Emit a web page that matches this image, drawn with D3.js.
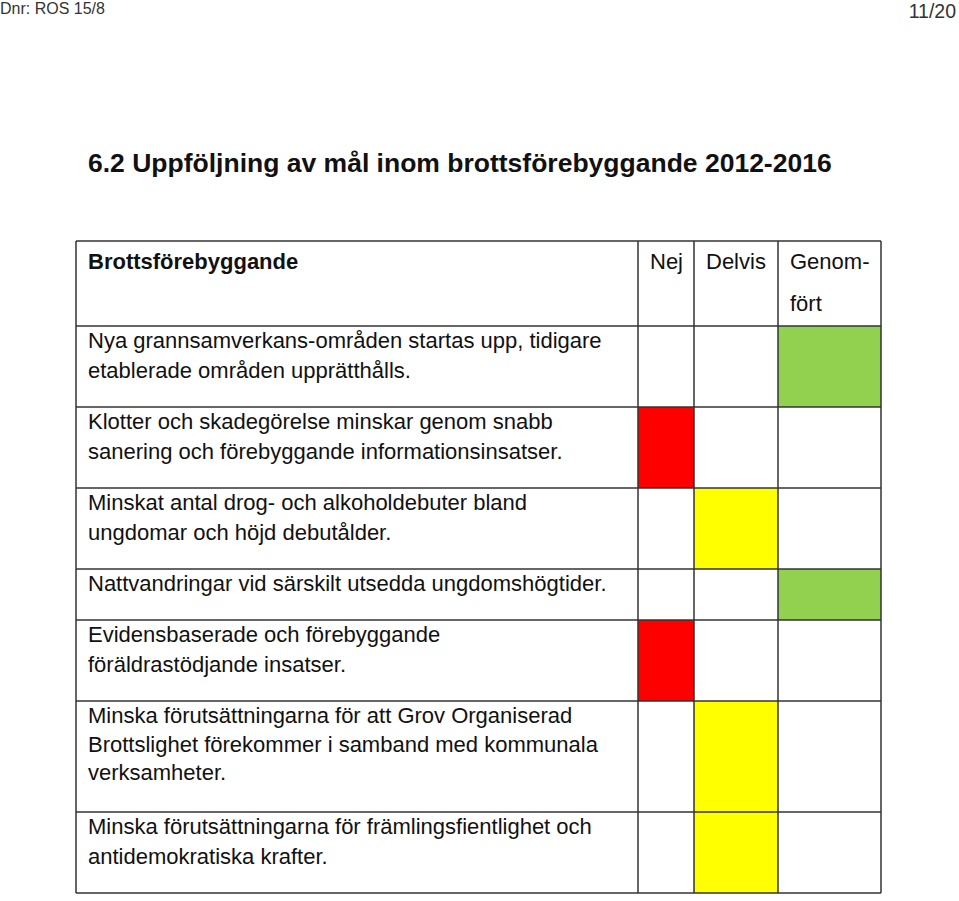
<!DOCTYPE html>
<html>
<head>
<meta charset="utf-8">
<script src="https://cdn.jsdelivr.net/npm/d3@7"></script>
<style>
  body { margin: 0; background: #fff; }
  text { font-family: "Liberation Sans", Arial, Helvetica, sans-serif; }
</style>
</head>
<body>
<script>
// page header
const docRef = "Dnr: ROS 15/8";
const pageNo = "11/20";
const title = "6.2 Uppföljning av mål inom brottsförebyggande 2012-2016";

// table columns
const headerTitle = "Brottsförebyggande";
const statusCols = ["Nej", "Delvis", "Genomfört"];
const statusHeaderLines = [["Nej"], ["Delvis"], ["Genom-", "fört"]];

// goals (line breaks as in the document) and their status
const goals = [
  ["Nya grannsamverkans-områden startas upp, tidigare", "etablerade områden upprätthålls."],
  ["Klotter och skadegörelse minskar genom snabb", "sanering och förebyggande informationsinsatser."],
  ["Minskat antal drog- och alkoholdebuter bland", "ungdomar och höjd debutålder."],
  ["Nattvandringar vid särskilt utsedda ungdomshögtider."],
  ["Evidensbaserade och förebyggande", "föräldrastödjande insatser."],
  ["Minska förutsättningarna för att Grov Organiserad", "Brottslighet förekommer i samband med kommunala", "verksamheter."],
  ["Minska förutsättningarna för främlingsfientlighet och", "antidemokratiska krafter."]
];
const status = ["Genomfört", "Nej", "Delvis", "Genomfört", "Nej", "Delvis", "Delvis"];

const W = 959, H = 901;
const tableTop = 241;
const colEdges = [76, 638, 694, 778, 881];
const headerH = 85, lineH = 30, rowPad = 21;
const fontSize = 22;

const colorOf = d3.scaleOrdinal()
  .domain(statusCols)
  .range(["#ff0000", "#ffff00", "#92d050"]);

const colX = d3.scaleOrdinal()
  .domain(["goal"].concat(statusCols))
  .range(colEdges.slice(0, 4));
const colW = c => colEdges[colX.domain().indexOf(c) + 1] - colX(c);

// row tops from number of text lines
const rowHeights = goals.map(g => rowPad + g.length * lineH);
const rowTops = [];
let acc = tableTop + headerH;
rowHeights.forEach(h => { rowTops.push(acc); acc += h; });
const tableBottom = acc;
const rowY = d3.scaleOrdinal().domain(d3.range(goals.length)).range(rowTops);

const svg = d3.select("body").append("svg")
  .attr("width", W)
  .attr("height", H);

// page header
svg.append("text").attr("x", 0).attr("y", 14)
  .attr("font-size", 16).attr("fill", "#333").text(docRef);
svg.append("text").attr("x", 956).attr("y", 18)
  .attr("text-anchor", "end")
  .attr("font-size", 19.5).attr("fill", "#333").text(pageNo);

svg.append("text").attr("x", 88).attr("y", 172)
  .attr("font-size", 26.5).attr("font-weight", "bold").attr("fill", "#111")
  .text(title);

// coloured status cells
svg.selectAll("rect.cell")
  .data(goals.map((g, i) => ({ i: i, s: status[i] })))
  .join("rect")
  .attr("class", "cell")
  .attr("x", d => colX(d.s))
  .attr("y", d => rowY(d.i))
  .attr("width", d => colW(d.s))
  .attr("height", d => rowHeights[d.i])
  .attr("fill", d => colorOf(d.s));

// header texts
svg.append("text").attr("x", colX("goal") + 12).attr("y", tableTop + 28)
  .attr("font-size", fontSize).attr("font-weight", "bold").attr("fill", "#111")
  .text(headerTitle);

statusCols.forEach((c, k) => {
  svg.append("text")
    .attr("font-size", fontSize).attr("fill", "#111")
    .selectAll("tspan")
    .data(statusHeaderLines[k])
    .join("tspan")
    .attr("x", colX(c) + 12)
    .attr("y", (d, j) => tableTop + 28 + j * 42)
    .text(d => d);
});

// goal texts
goals.forEach((g, i) => {
  svg.append("text")
    .attr("font-size", fontSize).attr("fill", "#111")
    .selectAll("tspan")
    .data(g)
    .join("tspan")
    .attr("x", colX("goal") + 12)
    .attr("y", (d, j) => rowY(i) + 22 + j * (g.length > 2 ? 28.5 : lineH))
    .text(d => d);
});

// grid lines
const grid = svg.append("g")
  .attr("stroke", "#333")
  .attr("stroke-width", 1.5);

const hLines = [tableTop, tableTop + headerH].concat(rowTops.slice(1), [tableBottom]);
grid.selectAll("line.h")
  .data(hLines)
  .join("line")
  .attr("class", "h")
  .attr("x1", colEdges[0]).attr("x2", colEdges[4])
  .attr("y1", d => d).attr("y2", d => d);

grid.selectAll("line.v")
  .data(colEdges)
  .join("line")
  .attr("class", "v")
  .attr("x1", d => d).attr("x2", d => d)
  .attr("y1", tableTop).attr("y2", tableBottom);
</script>
</body>
</html>
